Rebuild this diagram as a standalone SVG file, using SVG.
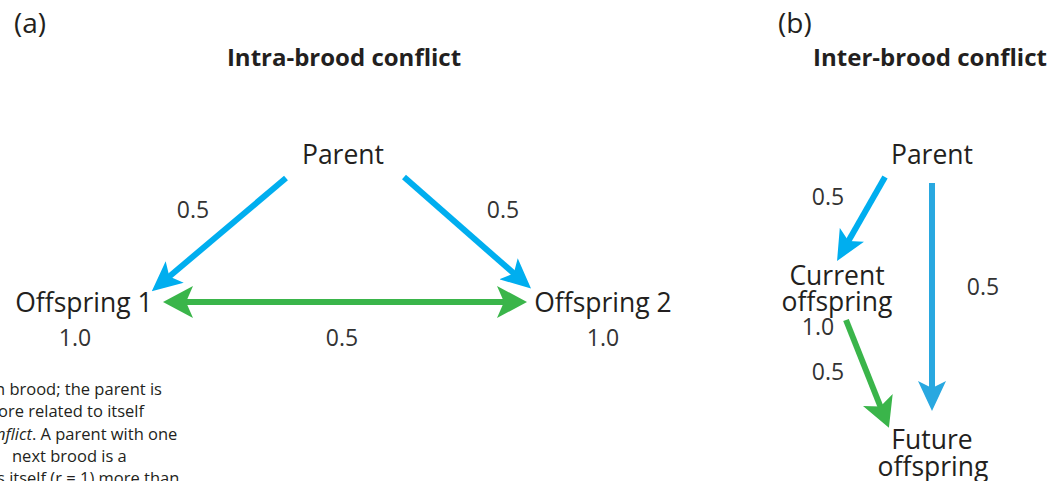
<svg xmlns="http://www.w3.org/2000/svg" width="1059" height="481" viewBox="0 0 1059 481">
<style>
  text { font-family: "Open Sans", "Noto Sans", "Liberation Sans", sans-serif; fill: #231F20; }
  .lbl { font-size: 26.5px; }
  .num { font-size: 23px; fill: #333; }
  .ttl { font-size: 24px; font-weight: bold; }
  .pan { font-size: 28px; }
  .cap { font-size: 16.5px; }
  .blue { stroke: #00AEEF; stroke-width: 6; fill: none; }
  .blue2 { stroke: #29A8E0; stroke-width: 6; fill: none; }
  .green { stroke: #3AB54A; stroke-width: 6; fill: none; }
</style>
<defs>
  <marker id="hb" viewBox="0 0 30 28" refX="14" refY="14" markerWidth="30" markerHeight="28" markerUnits="userSpaceOnUse" orient="auto-start-reverse">
    <path d="M0,0 L30,14 L0,28 L7,14 z" fill="#00AEEF"/>
  </marker>
  <marker id="hb2" viewBox="0 0 30 28" refX="14" refY="14" markerWidth="30" markerHeight="28" markerUnits="userSpaceOnUse" orient="auto-start-reverse">
    <path d="M0,0 L30,14 L0,28 L7,14 z" fill="#29A8E0"/>
  </marker>
  <marker id="hg" viewBox="0 0 30 32" refX="14" refY="16" markerWidth="30" markerHeight="32" markerUnits="userSpaceOnUse" orient="auto-start-reverse">
    <path d="M0,0 L30,16 L0,32 L7,16 z" fill="#3AB54A"/>
  </marker>
</defs>

<text class="pan" x="14" y="33">(a)</text>
<text class="ttl" x="344" y="66" text-anchor="middle">Intra-brood conflict</text>
<text class="pan" x="778" y="33">(b)</text>
<text class="ttl" x="930" y="66" text-anchor="middle">Inter-brood conflict</text>

<g id="connectors">
  <path class="blue" d="M286,178 L164,281" marker-end="url(#hb)"/>
  <path class="blue" d="M404,177 L519,278" marker-end="url(#hb)"/>
  <path class="green" d="M179,302 L511,302" marker-start="url(#hg)" marker-end="url(#hg)"/>
  <path class="blue" d="M885,177 L845,247" marker-end="url(#hb)"/>
  <path class="blue2" d="M932,183 L932,395" marker-end="url(#hb2)"/>
  <path class="green" d="M846,320 L883,413" marker-end="url(#hg)"/>
</g>

<g id="edge-labels">
  <text class="num" x="193" y="218" text-anchor="middle">0.5</text>
  <text class="num" x="503" y="218" text-anchor="middle">0.5</text>
  <text class="num" x="342" y="346" text-anchor="middle">0.5</text>
  <text class="num" x="828" y="205" text-anchor="middle">0.5</text>
  <text class="num" x="983" y="295" text-anchor="middle">0.5</text>
  <text class="num" x="828" y="380" text-anchor="middle">0.5</text>
</g>

<g id="parent-a">
  <text class="lbl" x="343" y="164" text-anchor="middle">Parent</text>
</g>
<g id="offspring1">
  <text class="lbl" x="84" y="312" text-anchor="middle">Offspring 1</text>
  <text class="num" x="75" y="346" text-anchor="middle">1.0</text>
</g>
<g id="offspring2">
  <text class="lbl" x="603" y="312" text-anchor="middle">Offspring 2</text>
  <text class="num" x="603" y="346" text-anchor="middle">1.0</text>
</g>

<g id="parent-b">
  <text class="lbl" x="932" y="164" text-anchor="middle">Parent</text>
</g>
<g id="current-offspring">
  <text class="lbl" x="837" y="285" text-anchor="middle">Current</text>
  <text class="lbl" x="837" y="311" text-anchor="middle">offspring</text>
  <text class="num" x="818" y="335" text-anchor="middle">1.0</text>
</g>
<g id="future-offspring">
  <text class="lbl" x="932" y="449" text-anchor="middle">Future</text>
  <text class="lbl" x="933" y="476" text-anchor="middle">offspring</text>
</g>

<g id="caption">
  <text class="cap" x="-5" y="395">n brood; the parent is</text>
  <text class="cap" x="-2" y="417">ore related to itself</text>
  <text class="cap" x="-4" y="440"><tspan font-style="italic">nflict</tspan>. A parent with one</text>
  <text class="cap" x="12" y="462">next brood is a</text>
  <text class="cap" x="-3" y="484">s itself (r = 1) more than</text>
</g>
</svg>
